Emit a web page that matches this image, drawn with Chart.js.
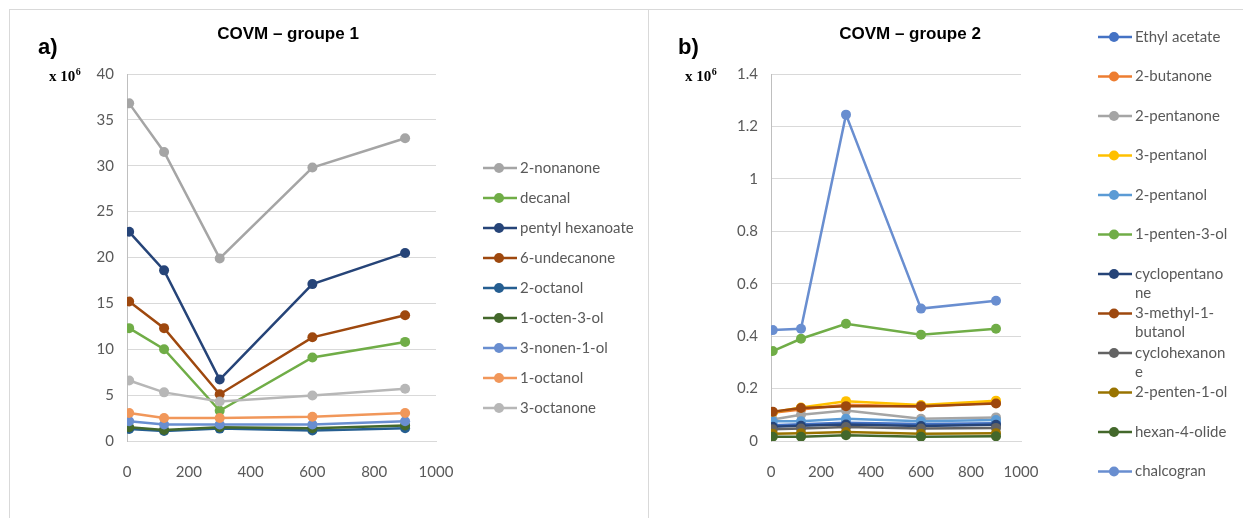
<!DOCTYPE html>
<html>
<head>
<meta charset="utf-8">
<script src="https://cdn.jsdelivr.net/npm/chart.js@4.4.0/dist/chart.umd.min.js"></script>
<style>
  html, body { margin: 0; padding: 0; background: #fff; }
  body { width: 1243px; height: 518px; position: relative; overflow: hidden; }
  .panel { position: absolute; top: 0; height: 518px; }
  #p1 { left: 0; width: 648px; }
  #p2 { left: 650px; width: 593px; }
  .rule { position: absolute; background: #d9d9d9; }
</style>
</head>
<body>
<div class="rule" style="left:9px; top:9px; width:1234px; height:1px"></div>
<div class="rule" style="left:9px; top:9px; width:1px; height:509px"></div>
<div class="rule" style="left:648px; top:9px; width:1px; height:509px"></div>
<div class="panel" id="p1"><canvas id="c1" width="648" height="518"></canvas></div>
<div class="panel" id="p2"><canvas id="c2" width="593" height="518"></canvas></div>

<script>
// sampling times (x axis)
const days = [7, 120, 300, 600, 900];
const xLabels = ['0', '200', '400', '600', '800', '1000'];

// groupe 1, values x 10^6
const names1 = ['2-nonanone', 'decanal', 'pentyl hexanoate', '6-undecanone', '2-octanol',
  '1-octen-3-ol', '3-nonen-1-ol', '1-octanol', '3-octanone'];
const nonanone = [36.8, 31.5, 19.9, 29.8, 33.0];
const decanal = [12.3, 10.0, 3.3, 9.1, 10.8];
const pentylHexanoate = [22.8, 18.6, 6.7, 17.1, 20.5];
const undecanone = [15.2, 12.3, 5.1, 11.3, 13.7];
const octanol2 = [1.3, 1.1, 1.35, 1.15, 1.4];
const octenol = [1.5, 1.2, 1.5, 1.4, 1.7];
const nonenol = [2.15, 1.8, 1.8, 1.8, 2.15];
const octanol1 = [3.05, 2.5, 2.5, 2.65, 3.05];
const octanone3 = [6.6, 5.3, 4.3, 4.95, 5.7];
const yLabels1 = ['0', '5', '10', '15', '20', '25', '30', '35', '40'];

// groupe 2, values x 10^6
const names2 = ['Ethyl acetate', '2-butanone', '2-pentanone', '3-pentanol', '2-pentanol',
  '1-penten-3-ol', 'cyclopentano\nne', '3-methyl-1-\nbutanol', 'cyclohexanon\ne',
  '2-penten-1-ol', 'hexan-4-olide', 'chalcogran'];
const ethylAcetate = [0.06, 0.064, 0.07, 0.065, 0.068];
const butanone = [0.108, 0.12, 0.138, 0.132, 0.146];
const pentanone2 = [0.082, 0.1, 0.116, 0.085, 0.09];
const pentanol3 = [0.11, 0.128, 0.152, 0.137, 0.154];
const pentanol2 = [0.075, 0.075, 0.085, 0.075, 0.08];
const pentenol3 = [0.343, 0.39, 0.447, 0.405, 0.428];
const cyclopentanone = [0.054, 0.058, 0.063, 0.057, 0.062];
const methylButanol = [0.112, 0.126, 0.133, 0.133, 0.143];
const cyclohexanone = [0.045, 0.048, 0.053, 0.048, 0.05];
const pentenol1 = [0.028, 0.03, 0.034, 0.028, 0.03];
const hexanolide = [0.016, 0.016, 0.022, 0.016, 0.018];
const chalcogran = [0.423, 0.428, 1.245, 0.505, 0.535];
const yLabels2 = ['0', '0.2', '0.4', '0.6', '0.8', '1', '1.2', '1.4'];

const colors1 = ['#a5a5a5', '#70ad47', '#264478', '#9e480e', '#255e91', '#43682b', '#698ed0', '#f1975a', '#b7b7b7'];
const colors2 = ['#4472c4', '#ed7d31', '#a5a5a5', '#ffc000', '#5b9bd5', '#70ad47', '#264478', '#9e480e',
  '#636363', '#997300', '#43682b', '#698ed0'];

Chart.defaults.font.family = 'Lato';
Chart.defaults.color = '#595959';

// title, panel letter, unit and the legend are painted here
const overlay = {
  id: 'overlay',
  afterDraw(chart, args, o) {
    const ctx = chart.ctx;
    ctx.save();
    ctx.fillStyle = '#000';
    ctx.textBaseline = 'middle';
    ctx.textAlign = 'center';
    ctx.font = 'bold 17px "Liberation Sans"';
    ctx.fillText(o.title, o.titleX, 34);

    ctx.textAlign = 'left';
    ctx.font = 'bold 22px "Liberation Sans"';
    ctx.fillText(o.tag, o.tagX, 48);

    ctx.textBaseline = 'alphabetic';
    ctx.font = 'bold 15px "Liberation Serif"';
    ctx.fillText('x 10', o.unitX, 81);
    const w = ctx.measureText('x 10').width;
    ctx.font = 'bold 10px "Liberation Serif"';
    ctx.fillText('6', o.unitX + w + 0.5, 75);

    ctx.font = '15px Lato';
    ctx.fillStyle = '#595959';
    ctx.textBaseline = 'middle';
    chart.data.datasets.forEach((ds, i) => {
      const y = o.legendTop + i * o.legendStep;
      ctx.strokeStyle = ds.borderColor;
      ctx.fillStyle = ds.borderColor;
      ctx.lineWidth = 2.5;
      ctx.beginPath();
      ctx.moveTo(o.legendX, y);
      ctx.lineTo(o.legendX + 34, y);
      ctx.stroke();
      ctx.beginPath();
      ctx.arc(o.legendX + 16, y, 5, 0, Math.PI * 2);
      ctx.fill();
      ctx.fillStyle = '#595959';
      ds.label.split('\n').forEach((line, k) => {
        ctx.fillText(line, o.legendX + 37, y + k * 19);
      });
    });
    ctx.restore();
  }
};

function makeChart(id, cfg) {
  return new Chart(document.getElementById(id), {
    type: 'line',
    data: {
      datasets: cfg.series.map((vals, i) => ({
        label: cfg.names[i],
        data: days.map((d, k) => ({ x: d, y: vals[k] })),
        borderColor: cfg.colors[i],
        backgroundColor: cfg.colors[i],
        borderWidth: 2.5,
        pointRadius: 5,
        pointBorderWidth: 0,
        order: cfg.series.length - i
      }))
    },
    options: {
      responsive: false,
      animation: false,
      layout: { padding: { top: 74, right: cfg.padRight, bottom: 0, left: 0 } },
      plugins: { legend: { display: false }, tooltip: { enabled: false }, overlay: cfg.overlay },
      scales: {
        x: {
          type: 'linear', min: 0, max: 1000,
          ticks: { stepSize: 200, padding: 14, maxRotation: 0, font: { size: 15 },
            callback: (v, i) => xLabels[i] },
          grid: { display: false },
          border: { color: '#d9d9d9' },
          afterFit: s => { s.height = 77; }
        },
        y: {
          min: 0, max: cfg.yMax,
          ticks: { stepSize: cfg.yStep, padding: 13, font: { size: 15 },
            callback: (v, i) => cfg.yLabels[i] },
          grid: { color: '#d9d9d9', drawTicks: false },
          border: { color: '#bfbfbf' },
          afterFit: s => { s.width = cfg.axisLeft; }
        }
      }
    },
    plugins: [overlay]
  });
}

makeChart('c1', {
  names: names1, colors: colors1,
  series: [nonanone, decanal, pentylHexanoate, undecanone, octanol2, octenol, nonenol, octanol1, octanone3],
  yMax: 40, yStep: 5, yLabels: yLabels1,
  axisLeft: 127, padRight: 648 - 436,
  overlay: { title: 'COVM – groupe 1', titleX: 288, tag: 'a)', tagX: 38, unitX: 49,
    legendX: 483, legendTop: 168, legendStep: 30 }
});

makeChart('c2', {
  names: names2, colors: colors2,
  series: [ethylAcetate, butanone, pentanone2, pentanol3, pentanol2, pentenol3, cyclopentanone,
    methylButanol, cyclohexanone, pentenol1, hexanolide, chalcogran],
  yMax: 1.4, yStep: 0.2, yLabels: yLabels2,
  axisLeft: 121, padRight: 593 - 371,
  overlay: { title: 'COVM – groupe 2', titleX: 260, tag: 'b)', tagX: 28, unitX: 35,
    legendX: 448, legendTop: 37, legendStep: 39.5 }
});
</script>
</body>
</html>
